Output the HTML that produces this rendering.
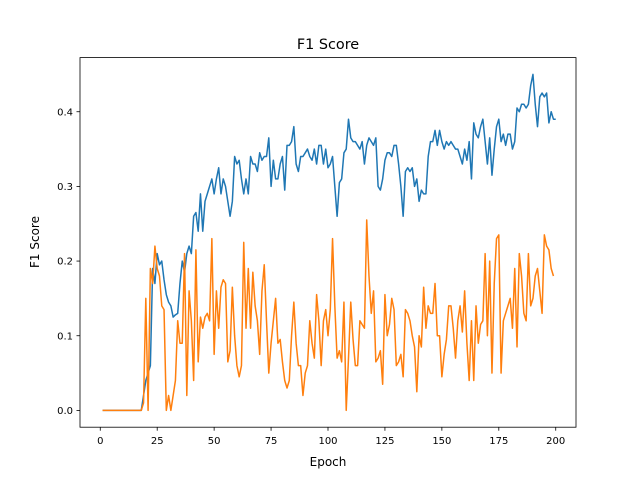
<!DOCTYPE html>
<html><head><meta charset="utf-8"><style>
body{margin:0;background:#fff;}
svg text{font-family:"DejaVu Sans","Liberation Sans",sans-serif;fill:#000;}
</style></head><body>
<svg id="chart" width="640" height="480" xmlns="http://www.w3.org/2000/svg">
<rect width="640" height="480" fill="#fff"/>
<text x="328" y="49" font-size="14.4" text-anchor="middle">F1 Score</text>
<g id="plot"></g>
<rect x="80" y="57.6" width="496" height="369.6" fill="none" stroke="#000" stroke-width="0.8"/>
<text x="328" y="466" font-size="12" text-anchor="middle">Epoch</text>
<text transform="translate(39,242) rotate(-90)" font-size="12" text-anchor="middle">F1 Score</text>
</svg>
<script>
const xTicks=[0,25,50,75,100,125,150,175,200];
const yTicks=[0.0,0.1,0.2,0.3,0.4];
const yTickLabels=["0.0","0.1","0.2","0.3","0.4"];
const blueF1=[0,0,0,0,0,0,0,0,0,0,0,0,0,0,0,0,0,0,0.02,0.04,0.05,0.06,0.19,0.17,0.21,0.195,0.2,0.175,0.155,0.145,0.14,0.125,0.128,0.13,0.17,0.2,0.185,0.21,0.22,0.21,0.26,0.265,0.24,0.29,0.24,0.28,0.29,0.3,0.31,0.29,0.31,0.325,0.29,0.31,0.3,0.28,0.26,0.28,0.34,0.33,0.335,0.31,0.29,0.31,0.29,0.34,0.33,0.33,0.32,0.345,0.335,0.34,0.34,0.365,0.3,0.335,0.31,0.31,0.33,0.34,0.295,0.355,0.355,0.36,0.38,0.33,0.32,0.34,0.34,0.345,0.35,0.34,0.335,0.35,0.33,0.355,0.355,0.33,0.35,0.325,0.33,0.34,0.3,0.26,0.305,0.31,0.345,0.35,0.39,0.365,0.36,0.36,0.355,0.35,0.36,0.33,0.355,0.365,0.36,0.355,0.365,0.3,0.295,0.31,0.335,0.345,0.345,0.34,0.355,0.355,0.33,0.3,0.26,0.32,0.325,0.32,0.325,0.3,0.31,0.28,0.295,0.29,0.29,0.34,0.36,0.36,0.375,0.355,0.375,0.36,0.35,0.36,0.355,0.36,0.355,0.35,0.35,0.34,0.33,0.35,0.335,0.36,0.31,0.385,0.37,0.365,0.38,0.39,0.36,0.33,0.365,0.315,0.35,0.38,0.39,0.36,0.37,0.355,0.37,0.37,0.35,0.36,0.405,0.4,0.41,0.41,0.405,0.41,0.435,0.45,0.41,0.38,0.42,0.425,0.42,0.425,0.385,0.4,0.39,0.39];
const orangeF1=[0,0,0,0,0,0,0,0,0,0,0,0,0,0,0,0,0,0,0.01,0.15,0.0,0.19,0.17,0.22,0.19,0.18,0.14,0.135,0.0,0.02,0.0,0.02,0.04,0.12,0.09,0.09,0.21,0.02,0.16,0.12,0.04,0.215,0.065,0.125,0.11,0.125,0.13,0.12,0.23,0.075,0.16,0.11,0.165,0.175,0.17,0.065,0.08,0.165,0.1,0.06,0.045,0.06,0.225,0.11,0.19,0.11,0.185,0.14,0.12,0.075,0.16,0.195,0.12,0.05,0.09,0.12,0.15,0.09,0.095,0.065,0.04,0.03,0.04,0.1,0.145,0.09,0.06,0.06,0.02,0.05,0.06,0.12,0.09,0.07,0.155,0.12,0.06,0.12,0.135,0.1,0.135,0.23,0.14,0.07,0.08,0.065,0.145,0.0,0.07,0.145,0.095,0.06,0.06,0.12,0.115,0.11,0.255,0.18,0.13,0.16,0.065,0.07,0.08,0.035,0.155,0.1,0.115,0.15,0.135,0.06,0.065,0.075,0.045,0.135,0.13,0.12,0.1,0.085,0.025,0.1,0.085,0.165,0.11,0.14,0.13,0.13,0.17,0.1,0.1,0.045,0.075,0.095,0.14,0.14,0.11,0.07,0.12,0.14,0.105,0.16,0.09,0.04,0.12,0.04,0.14,0.09,0.115,0.12,0.21,0.1,0.2,0.05,0.17,0.23,0.235,0.05,0.12,0.13,0.14,0.15,0.11,0.19,0.085,0.21,0.18,0.13,0.12,0.21,0.14,0.15,0.18,0.19,0.16,0.13,0.235,0.22,0.215,0.19,0.18];
const L=80,R=576,T=57.6,B=427.2;
const xMin=-8.9,xMax=208.9,yMin=-0.0225,yMax=0.4725;
const sx=v=>L+(v-xMin)/(xMax-xMin)*(R-L);
const sy=v=>B-(v-yMin)/(yMax-yMin)*(B-T);
const NS="http://www.w3.org/2000/svg";
const g=document.getElementById('plot');
function mk(t,a){const e=document.createElementNS(NS,t);for(const k in a)e.setAttribute(k,a[k]);g.appendChild(e);return e;}
xTicks.forEach(v=>{
  const l=mk('line',{x1:sx(v),x2:sx(v),y1:B,y2:B+3.5,stroke:'#000','stroke-width':0.8});
  
  
  const t=mk('text',{x:sx(v),y:B+17,'font-size':10,'text-anchor':'middle'});
  t.textContent=v;
  
  
});
yTicks.forEach((v,i)=>{
  const l=mk('line',{x1:L-3.5,x2:L,y1:sy(v),y2:sy(v),stroke:'#000','stroke-width':0.8});
  
  
  const t=mk('text',{x:L-7,y:sy(v)+3.6,'font-size':10,'text-anchor':'end'});
  t.textContent=yTickLabels[i];
  
  
});
function line(arr,color,name){
  const d=arr.map((v,i)=>(i?'L':'M')+sx(i+1).toFixed(2)+','+sy(v).toFixed(2)).join('');
  const p=mk('path',{d:d,fill:'none',stroke:color,'stroke-width':1.5,'stroke-linejoin':'round'});
  
  
}
line(blueF1,'#1f77b4','series-blue-line');
line(orangeF1,'#ff7f0e','series-orange-line');
</script>
</body></html>
